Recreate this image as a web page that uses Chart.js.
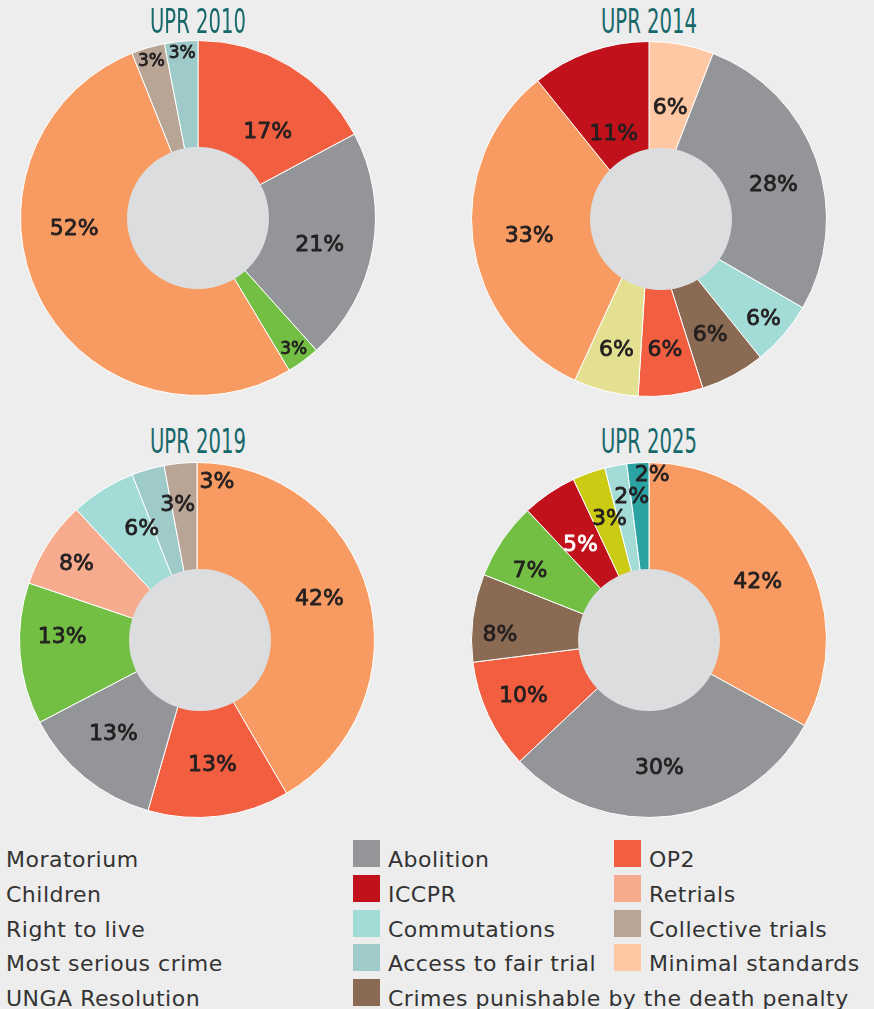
<!DOCTYPE html>
<html>
<head>
<meta charset="utf-8">
<script src="https://cdn.jsdelivr.net/npm/chart.js@4"></script>
<style>
  body { margin: 0; background: #ededed; width: 874px; height: 1009px; position: relative; overflow: hidden; font-family: "DejaVu Sans", sans-serif; }
  .box { position: absolute; width: 356px; height: 356px; }
  .title { position: absolute; font-family: "Liberation Sans Narrow", "DejaVu Sans Condensed", sans-serif; font-size: 33px; line-height: 33px; color: #17686a; white-space: nowrap; transform-origin: 0 0; }
  .leg { position: absolute; font-size: 22px; line-height: 27px; color: #333; white-space: nowrap; letter-spacing: 0.5px; }
  .sw { position: absolute; width: 27px; height: 27px; }
</style>
</head>
<body>
<div class="box" style="left:20px;top:40px"><canvas id="c2010"></canvas></div>
<div class="box" style="left:471px;top:41px"><canvas id="c2014"></canvas></div>
<div class="box" style="left:19px;top:462px"><canvas id="c2019"></canvas></div>
<div class="box" style="left:471px;top:462px"><canvas id="c2025"></canvas></div>
<div id="legend"></div>
<script>
const titles = ["UPR 2010", "UPR 2014", "UPR 2019", "UPR 2025"];

const cats2010 = ["OP2", "Abolition", "Children", "Moratorium", "Collective trials", "Access to fair trial"];
const vals2010 = [17, 21, 3, 52, 3, 3];

const cats2014 = ["Minimal standards", "Abolition", "Commutations", "Crimes punishable by the death penalty", "OP2", "Right to live", "Moratorium", "ICCPR"];
const vals2014 = [6, 28, 6, 6, 6, 6, 33, 11];

const cats2019 = ["Moratorium", "OP2", "Abolition", "Children", "Retrials", "Commutations", "Access to fair trial", "Collective trials"];
const vals2019 = [42, 13, 13, 13, 8, 6, 3, 3];

const cats2025 = ["Moratorium", "Abolition", "OP2", "Crimes punishable by the death penalty", "Children", "ICCPR", "Most serious crime", "Commutations", "UNGA Resolution"];
// the original prints 42% on the moratorium slice but draws it as about a third of the ring
const vals2025 = [33, 30, 10, 8, 7, 5, 3, 2, 2];
const shown2025 = [42, 30, 10, 8, 7, 5, 3, 2, 2];

const legendPlain = ["Moratorium", "Children", "Right to live", "Most serious crime", "UNGA Resolution"];
const legendMid = ["Abolition", "ICCPR", "Commutations", "Access to fair trial", "Crimes punishable by the death penalty"];
const legendRight = ["OP2", "Retrials", "Collective trials", "Minimal standards"];

const colours = {
  "Moratorium": "#f89b62",
  "Abolition": "#939598",
  "OP2": "#f15e40",
  "ICCPR": "#c1121c",
  "Retrials": "#f7ab8e",
  "Collective trials": "#b8a596",
  "Commutations": "#a3dbd6",
  "Access to fair trial": "#9fcaca",
  "Minimal standards": "#fdc8a3",
  "Crimes punishable by the death penalty": "#8a6a53",
  "Children": "#72bf44",
  "Right to live": "#e3e191",
  "Most serious crime": "#cccb14",
  "UNGA Resolution": "#2ba3a2"
};

// label placement: [fraction of outer radius, angle nudge in degrees]
const spots = [
  [[0.63, 7.6], [0.70, 1.6], [0.91, 0], [0.70, 22], [0.93, 0], [0.94, 0]],
  [[0.65, 0], [0.73, 3.4], [0.85, 0], [0.73, 0], [0.73, 0], [0.75, 0], [0.68, 0], [0.53, -2.6]],
  [[0.73, -4], [0.70, 0], [0.70, 3], [0.76, 6.5], [0.81, 0], [0.71, 6], [0.78, 8], [0.91, 12.4]],
  [[0.70, 1.6], [0.71, 2.4], [0.77, 2], [0.84, -4.5], [0.78, -3.5], [0.67, -1], [0.73, 2], [0.82, 4], [0.94, 4.7]]
];
// the grey centre disc is not always centred on the ring
const holeShift = [0, 12, 3, 0];

const ringLabels = {
  id: 'ringLabels',
  afterDatasetsDraw(chart, args, opts) {
    const ctx = chart.ctx;
    const arcs = chart.getDatasetMeta(0).data;
    const a0 = arcs[0];
    ctx.save();
    ctx.fillStyle = '#dcddde';
    ctx.beginPath();
    ctx.arc(a0.x + opts.shift, a0.y, a0.outerRadius * 0.4, 0, Math.PI * 2);
    ctx.fill();
    ctx.textAlign = 'center';
    ctx.textBaseline = 'alphabetic';
    ctx.lineJoin = 'round';
    arcs.forEach((arc, i) => {
      const [frac, nudge] = opts.spots[i];
      const mid = (arc.startAngle + arc.endAngle) / 2 + nudge * Math.PI / 180;
      const r = arc.outerRadius * frac;
      const size = opts.text[i] < 5 ? opts.small : 22;
      const x = arc.x + Math.cos(mid) * r;
      const y = arc.y + Math.sin(mid) * r + size * 0.36;
      ctx.font = size + 'px "DejaVu Sans"';
      ctx.fillStyle = ctx.strokeStyle = opts.white.includes(i) ? '#ffffff' : '#231f20';
      ctx.lineWidth = 0.8;
      ctx.fillText(opts.text[i] + '%', x, y);
      ctx.strokeText(opts.text[i] + '%', x, y);
    });
    ctx.restore();
  }
};

function ring(id, cats, vals, text, place, shift, small, white) {
  return new Chart(document.getElementById(id), {
    type: 'doughnut',
    data: {
      labels: cats,
      datasets: [{
        data: vals,
        backgroundColor: cats.map(c => colours[c]),
        borderColor: '#ffffff',
        borderWidth: 1
      }]
    },
    options: {
      responsive: true,
      maintainAspectRatio: false,
      animation: false,
      cutout: 0,
      events: [],
      layout: { padding: 0 },
      plugins: {
        legend: { display: false },
        tooltip: { enabled: false },
        ringLabels: { spots: place, text: text, shift: shift, small: small, white: white }
      }
    },
    plugins: [ringLabels]
  });
}

ring('c2010', cats2010, vals2010, vals2010, spots[0], holeShift[0], 17, []);
ring('c2014', cats2014, vals2014, vals2014, spots[1], holeShift[1], 22, []);
ring('c2019', cats2019, vals2019, vals2019, spots[2], holeShift[2], 22, []);
ring('c2025', cats2025, vals2025, shown2025, spots[3], holeShift[3], 22, [5]);

// titles, squeezed to the width of the condensed face in the original
const titleSpots = [[198, 5], [649, 5], [198, 425], [649, 425]];
titles.forEach((t, i) => {
  const d = document.createElement('div');
  d.className = 'title';
  d.textContent = t;
  document.body.appendChild(d);
  const w = d.getBoundingClientRect().width;
  const k = 96 / w;
  d.style.left = (titleSpots[i][0] - 48) + 'px';
  d.style.top = titleSpots[i][1] + 'px';
  d.style.transform = 'scaleX(' + k + ')';
});

// legend
const legend = document.getElementById('legend');
function legendItem(name, x, row, swatch) {
  const top = 840 + row * 34.8;
  if (swatch) {
    const s = document.createElement('div');
    s.className = 'sw';
    s.style.left = x + 'px';
    s.style.top = top + 'px';
    s.style.background = colours[name];
    legend.appendChild(s);
  }
  const t = document.createElement('div');
  t.className = 'leg';
  t.textContent = name;
  t.style.left = (swatch ? x + 35 : x) + 'px';
  t.style.top = (top + 6) + 'px';
  legend.appendChild(t);
}
legendPlain.forEach((n, i) => legendItem(n, 6, i, false));
legendMid.forEach((n, i) => legendItem(n, 353, i, true));
legendRight.forEach((n, i) => legendItem(n, 614, i, true));
</script>
</body>
</html>
